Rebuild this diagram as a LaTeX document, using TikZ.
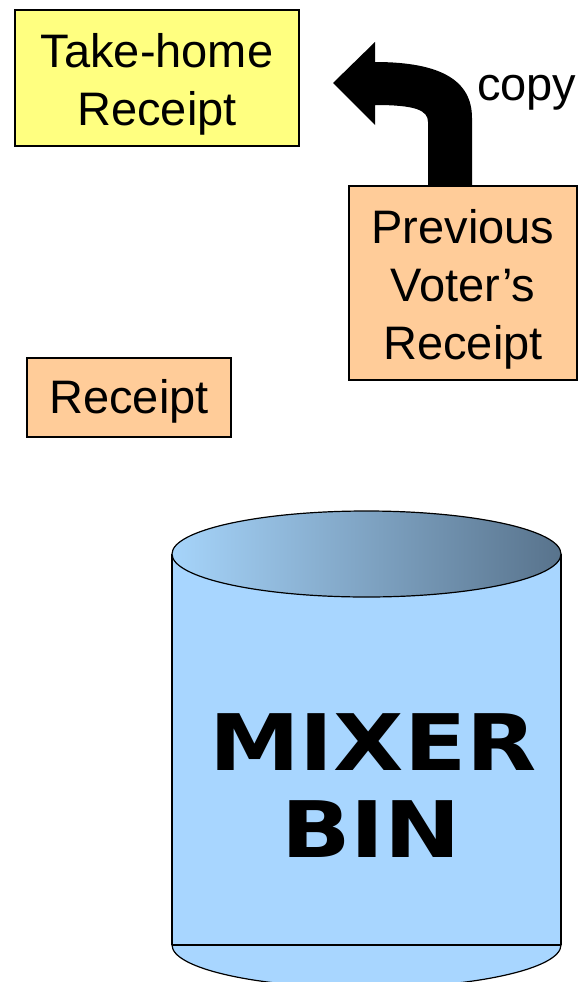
\documentclass[tikz,border=0pt]{standalone}
\usepackage{fontspec}
\setmainfont{Liberation Sans}
\newfontfamily\binfont{DejaVu Sans}
\definecolor{noteyellow}{RGB}{255,255,128}
\definecolor{notepeach}{RGB}{255,204,153}
\definecolor{binblue}{RGB}{168,214,255}
\definecolor{binlight}{RGB}{166,212,250}
\definecolor{bindark}{RGB}{88,115,140}
\begin{document}
\begin{tikzpicture}[x=1pt,y=-1pt,
  card/.style={draw=black,line width=1.5pt,inner sep=0pt},
  cardtext/.style={inner sep=0pt,align=center,font=\fontsize{47}{58}\selectfont},
  label/.style={inner sep=0pt,font=\fontsize{47}{58}\selectfont},
  bintext/.style={inner sep=0pt,font=\binfont\bfseries\fontsize{78}{78}\selectfont,xscale=1.17}]
\useasboundingbox (0,0) rectangle (584,982);

% paper slips
\node[card,fill=noteyellow,minimum width=284pt,minimum height=136pt] (takehome) at (157,78) {};
\node[cardtext] (takehome-t) at ([yshift=-6pt]takehome.center) {Take-home\\Receipt};
\node[card,fill=notepeach,minimum width=228pt,minimum height=194pt] (prev) at (463,283) {};
\node[cardtext] (prev-t) at ([yshift=-6pt]prev.center) {Previous\\Voter’s\\Receipt};
\node[card,fill=notepeach,minimum width=204pt,minimum height=79pt] (receipt) at (129,397.5) {};
\node[cardtext] (receipt-t) at ([yshift=-4pt]receipt.center) {Receipt};

% bent copy arrow rising out of the previous receipt
\coordinate (shaftL) at ([xshift=-35pt]prev.north);
\coordinate (shaftR) at ([xshift=9pt]prev.north);
\fill[black] (shaftR) -- (472,118) .. controls (472,80) and (440,62) .. (375,62)
  -- (375,42) -- (333,83) -- (375,125) -- (375,105)
  .. controls (415,105) and (428,110) .. (428,122) -- (shaftL) -- cycle;
\node[label,anchor=west] (copy) at (477,93) {copy};

% mixer bin cylinder
\fill[binblue] (172,554) rectangle (561,945);
\fill[binblue] (366.5,945) ellipse [x radius=194.5pt, y radius=43pt];
\draw[line width=1.2pt] (172,554) -- (172,945) (561,554) -- (561,945);
\draw[line width=1.2pt] (172,945) -- (561,945);
\draw[line width=1.2pt] (172,945) arc[start angle=180,end angle=360,x radius=194.5pt,y radius=43pt];
\shade[left color=binlight,right color=bindark,draw=black,line width=1.2pt]
  (366.5,554) ellipse [x radius=194.5pt, y radius=43pt];
\node[bintext] (mixer) at (373,742) {MIXER};
\node[bintext] (bin) at (371,829) {BIN};
\end{tikzpicture}
\end{document}
